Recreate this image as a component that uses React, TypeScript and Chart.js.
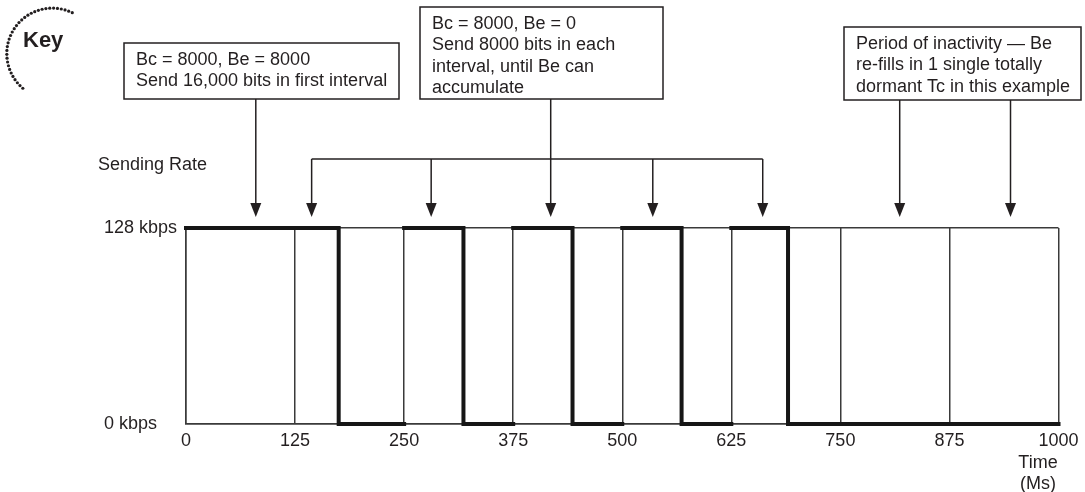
import { useEffect, useRef } from "react";
import { Chart, registerables } from "chart.js";

Chart.register(...registerables);

// ---- data ----
const timeTicks = [0, 125, 250, 375, 500, 625, 750, 875, 1000];
const edgeTimes = [0, 175, 250, 318, 375, 443, 500, 568, 625, 690, 1000];
const rateKbps = [128, 0, 128, 0, 128, 0, 128, 0, 128, 0]; // rate held from edgeTimes[i] to edgeTimes[i+1]
const rateTicks = [0, 128];
const rateLabels = ["0 kbps", "128 kbps"];
const burstArrowTimes = [80];
const bcArrowTimes = [144, 281, 418, 535, 661];
const bcStemTime = 418;
const idleArrowTimes = [818, 945];

const burstNote = ["Bc = 8000, Be = 8000", "Send 16,000 bits in first interval"];
const bcNote = ["Bc = 8000, Be = 0", "Send 8000 bits in each", "interval, until Be can", "accumulate"];
const idleNote = ["Period of inactivity \u2014 Be", "re-fills in 1 single totally", "dormant Tc in this example"];

const INK = "#231f20";
const THIN = "#3a3a3a";
const FONT = '"Liberation Sans", Arial, Helvetica, sans-serif';
const FS = 18;

export default function App() {
  const ref = useRef<HTMLCanvasElement | null>(null);

  useEffect(() => {
    const canvas = ref.current;
    if (!canvas) return;

    const stepPoints: { x: number; y: number }[] = [];
    for (let i = 0; i < rateKbps.length; i++) {
      stepPoints.push({ x: edgeTimes[i], y: rateKbps[i] });
      stepPoints.push({ x: edgeTimes[i + 1], y: rateKbps[i] });
    }

    const annotations = {
      id: "annotations",
      afterDraw(chart: any) {
        const ctx = chart.ctx as CanvasRenderingContext2D;
        const xs = chart.scales.x;
        const ys = chart.scales.y;
        const topY = ys.getPixelForValue(128);
        const tipY = topY - 11;
        ctx.save();

        // Key icon
        const cx = 52.3, cy = 53.6, r = 45.5;
        const a0 = (-64 * Math.PI) / 180;
        const a1 = (-229.6 * Math.PI) / 180;
        const n = 34;
        ctx.fillStyle = INK;
        for (let i = 0; i <= n; i++) {
          const a = a0 + ((a1 - a0) * i) / n;
          ctx.beginPath();
          ctx.arc(cx + r * Math.cos(a), cy + r * Math.sin(a), 1.6, 0, Math.PI * 2);
          ctx.fill();
        }
        ctx.font = `bold 22px ${FONT}`;
        ctx.textBaseline = "middle";
        ctx.textAlign = "left";
        ctx.fillText("Key", 23, 41);

        // labels
        ctx.font = `${FS}px ${FONT}`;
        ctx.fillText("Sending Rate", 98, 165);
        ctx.textAlign = "center";
        ctx.fillText("Time", 1038, 463);
        ctx.fillText("(Ms)", 1038, 484);

        const box = (x: number, y: number, w: number, h: number, lines: string[], ly: number) => {
          ctx.fillStyle = "#ffffff";
          ctx.fillRect(x, y, w, h);
          ctx.strokeStyle = INK;
          ctx.lineWidth = 1.5;
          ctx.strokeRect(x, y, w, h);
          ctx.fillStyle = INK;
          ctx.textAlign = "left";
          ctx.textBaseline = "middle";
          ctx.font = `${FS}px ${FONT}`;
          lines.forEach((t, i) => ctx.fillText(t, x + 12, ly + i * 21.4));
        };

        const arrow = (x: number, fromY: number) => {
          ctx.strokeStyle = INK;
          ctx.lineWidth = 1.5;
          ctx.beginPath();
          ctx.moveTo(x, fromY);
          ctx.lineTo(x, tipY - 10);
          ctx.stroke();
          ctx.fillStyle = INK;
          ctx.beginPath();
          ctx.moveTo(x - 5.5, tipY - 14);
          ctx.lineTo(x + 5.5, tipY - 14);
          ctx.lineTo(x, tipY);
          ctx.closePath();
          ctx.fill();
        };

        box(124, 43, 275, 56, burstNote, 60);
        box(420, 7, 243, 92, bcNote, 24);
        box(844, 27, 237, 73, idleNote, 44);

        burstArrowTimes.forEach((t) => arrow(xs.getPixelForValue(t), 99));
        idleArrowTimes.forEach((t) => arrow(xs.getPixelForValue(t), 100));

        const bracketY = 159;
        const bx = bcArrowTimes.map((t) => xs.getPixelForValue(t));
        ctx.strokeStyle = INK;
        ctx.lineWidth = 1.5;
        ctx.beginPath();
        ctx.moveTo(Math.min(...bx), bracketY);
        ctx.lineTo(Math.max(...bx), bracketY);
        ctx.stroke();
        bcArrowTimes.forEach((t) => {
          arrow(xs.getPixelForValue(t), t === bcStemTime ? 99 : bracketY);
        });

        ctx.restore();
      },
    };

    const chart = new Chart(canvas, {
      type: "line",
      data: {
        datasets: [
          {
            data: stepPoints,
            borderColor: "#161616",
            borderWidth: 4,
            borderCapStyle: "square",
            borderJoinStyle: "miter",
            pointRadius: 0,
            clip: false,
            segment: {
              borderColor: (c: any) =>
                c.p0.parsed.x === c.p1.parsed.x && c.p1.parsed.y > c.p0.parsed.y
                  ? "rgba(0,0,0,0)"
                  : undefined,
            },
          } as any,
        ],
      },
      options: {
        animation: false,
        responsive: false,
        devicePixelRatio: 1,
        layout: { padding: { left: 104, right: 26.5, top: 228, bottom: 36 } },
        plugins: { legend: { display: false }, tooltip: { enabled: false } },
        scales: {
          x: {
            type: "linear",
            min: 0,
            max: 1000,
            afterBuildTicks: (s: any) => {
              s.ticks = timeTicks.map((v) => ({ value: v }));
            },
            afterFit: (s: any) => {
              s.height = 32;
            },
            grid: { color: THIN, lineWidth: 1.5, drawTicks: false },
            border: { color: THIN, width: 1.5 },
            ticks: {
              color: INK,
              font: { family: FONT, size: FS },
              padding: 6,
              maxRotation: 0,
              autoSkip: false,
              callback: (v: any) => String(v),
            },
          },
          y: {
            type: "linear",
            min: 0,
            max: 128,
            afterBuildTicks: (s: any) => {
              s.ticks = rateTicks.map((v) => ({ value: v }));
            },
            afterFit: (s: any) => {
              s.width = 82;
            },
            grid: { color: THIN, lineWidth: 1.5, drawTicks: false },
            border: { color: THIN, width: 1.5 },
            ticks: {
              color: INK,
              font: { family: FONT, size: FS },
              crossAlign: "far",
              callback: (v: any) => rateLabels[rateTicks.indexOf(Number(v))],
            },
          },
        },
      },
      plugins: [annotations],
    } as any);

    return () => chart.destroy();
  }, []);

  return (
    <div style={{ position: "fixed", left: 0, top: 0, width: 1085, height: 492, background: "#fff" }}>
      <canvas ref={ref} width={1085} height={492} style={{ display: "block" }} />
    </div>
  );
}
